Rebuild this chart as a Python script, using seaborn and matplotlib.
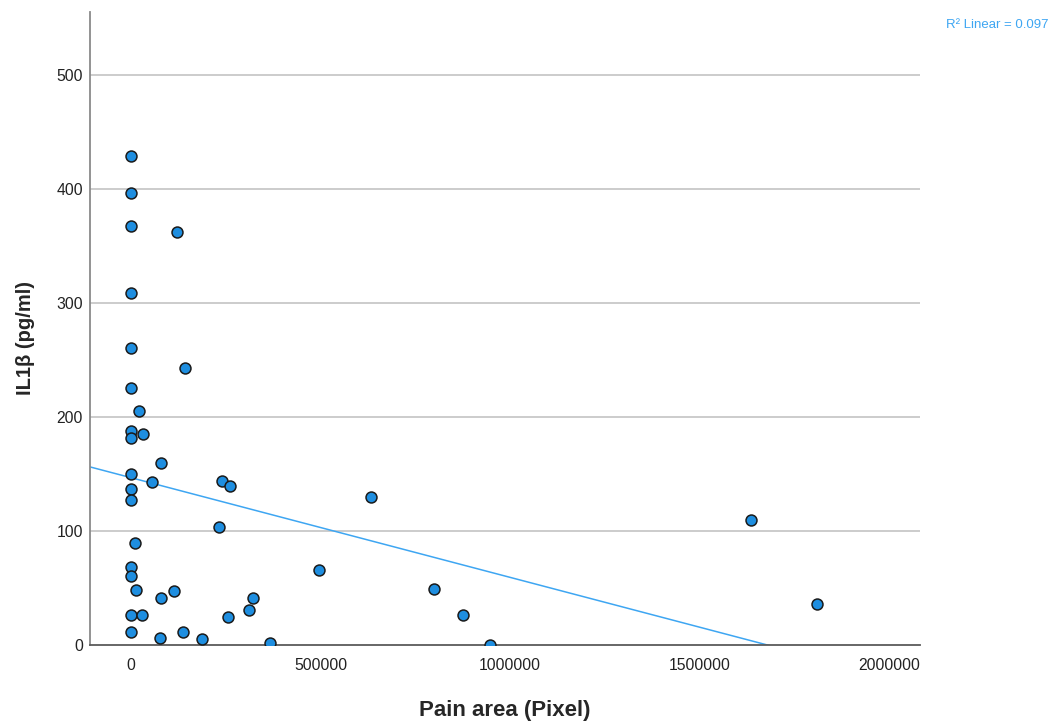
import numpy as np
import pandas as pd
import matplotlib
matplotlib.use("Agg")
import matplotlib.pyplot as plt
import seaborn as sns

# Werte
pain_area = [0, 0, 0, 121000, 0, 0, 142500, 0, 21000, 0,
             31700, 0, 79000, 0, 55400, 240000, 261000, 0, 0, 633000,
             232000, 1636000, 10000, 0, 0, 496000, 14000, 113000, 799000, 79000,
             322000, 311000, 0, 29000, 256000, 876000, 1810000, 0, 137000, 76500,
             187000, 367000, 947000]
il1b = [429, 396, 367.5, 362, 309, 260, 243, 225, 205, 188,
        185, 181.5, 160, 150, 143, 144, 139.5, 137, 127, 130,
        103.5, 109.6, 89.5, 68.4, 60.5, 65.8, 48, 47.4, 49, 41,
        41, 30.7, 26, 26, 24.6, 26, 36, 11.4, 11.4, 6,
        5, 2, 0]
r2_text = "R² Linear = 0.097"
x_ticks = [0, 500000, 1000000, 1500000, 2000000]
y_ticks = [0, 100, 200, 300, 400, 500]

df = pd.DataFrame({"pain": pain_area, "il1b": il1b})

sns.set_style("white")
plt.rcParams["font.family"] = ["Liberation Sans", "DejaVu Sans"]

fig = plt.figure(figsize=(10.52, 7.21), dpi=100)
ax = fig.add_axes([90 / 1052, 76 / 721, 830 / 1052, 633 / 721])
ax.set_xlim(-108000, 2082000)
ax.set_ylim(0, 555)

for yt in y_ticks[1:]:
    ax.axhline(yt, color="#c8c8c8", lw=1.3, zorder=0)

sns.regplot(data=df, x="pain", y="il1b", ax=ax, scatter=False, ci=None,
            truncate=False, line_kws=dict(color="#3ea6f2", lw=1.1, zorder=2))
sns.scatterplot(data=df, x="pain", y="il1b", ax=ax, s=62, color="#1e8ee0",
                edgecolor="#1a1a1a", linewidth=1.1, zorder=3)
ax.set_xlim(-108000, 2082000)
ax.set_ylim(0, 555)

ax.set_xticks(x_ticks)
ax.set_xticklabels([str(v) for v in x_ticks])
ax.set_yticks(y_ticks)
ax.tick_params(length=0, labelsize=11.3, colors="#222222")
ax.tick_params(axis="x", pad=9)
ax.tick_params(axis="y", pad=5)

ax.set_xlabel("Pain area (Pixel)", fontsize=16, fontweight="bold", labelpad=20)
ax.set_ylabel("IL1β (pg/ml)", fontsize=14.5, fontweight="bold")
ax.yaxis.set_label_coords(-0.066, 0.485)

for s in ["top", "right"]:
    ax.spines[s].set_visible(False)
ax.spines["left"].set_color("#8a8a8a")
ax.spines["bottom"].set_color("#5a5a5a")
ax.spines["left"].set_linewidth(1.3)
ax.spines["bottom"].set_linewidth(1.3)

fig.text(1048 / 1052, 1 - 25 / 721, r2_text, ha="right", va="center",
         fontsize=9.5, color="#3ea6f2")

fig.savefig("out.png", dpi=100)
